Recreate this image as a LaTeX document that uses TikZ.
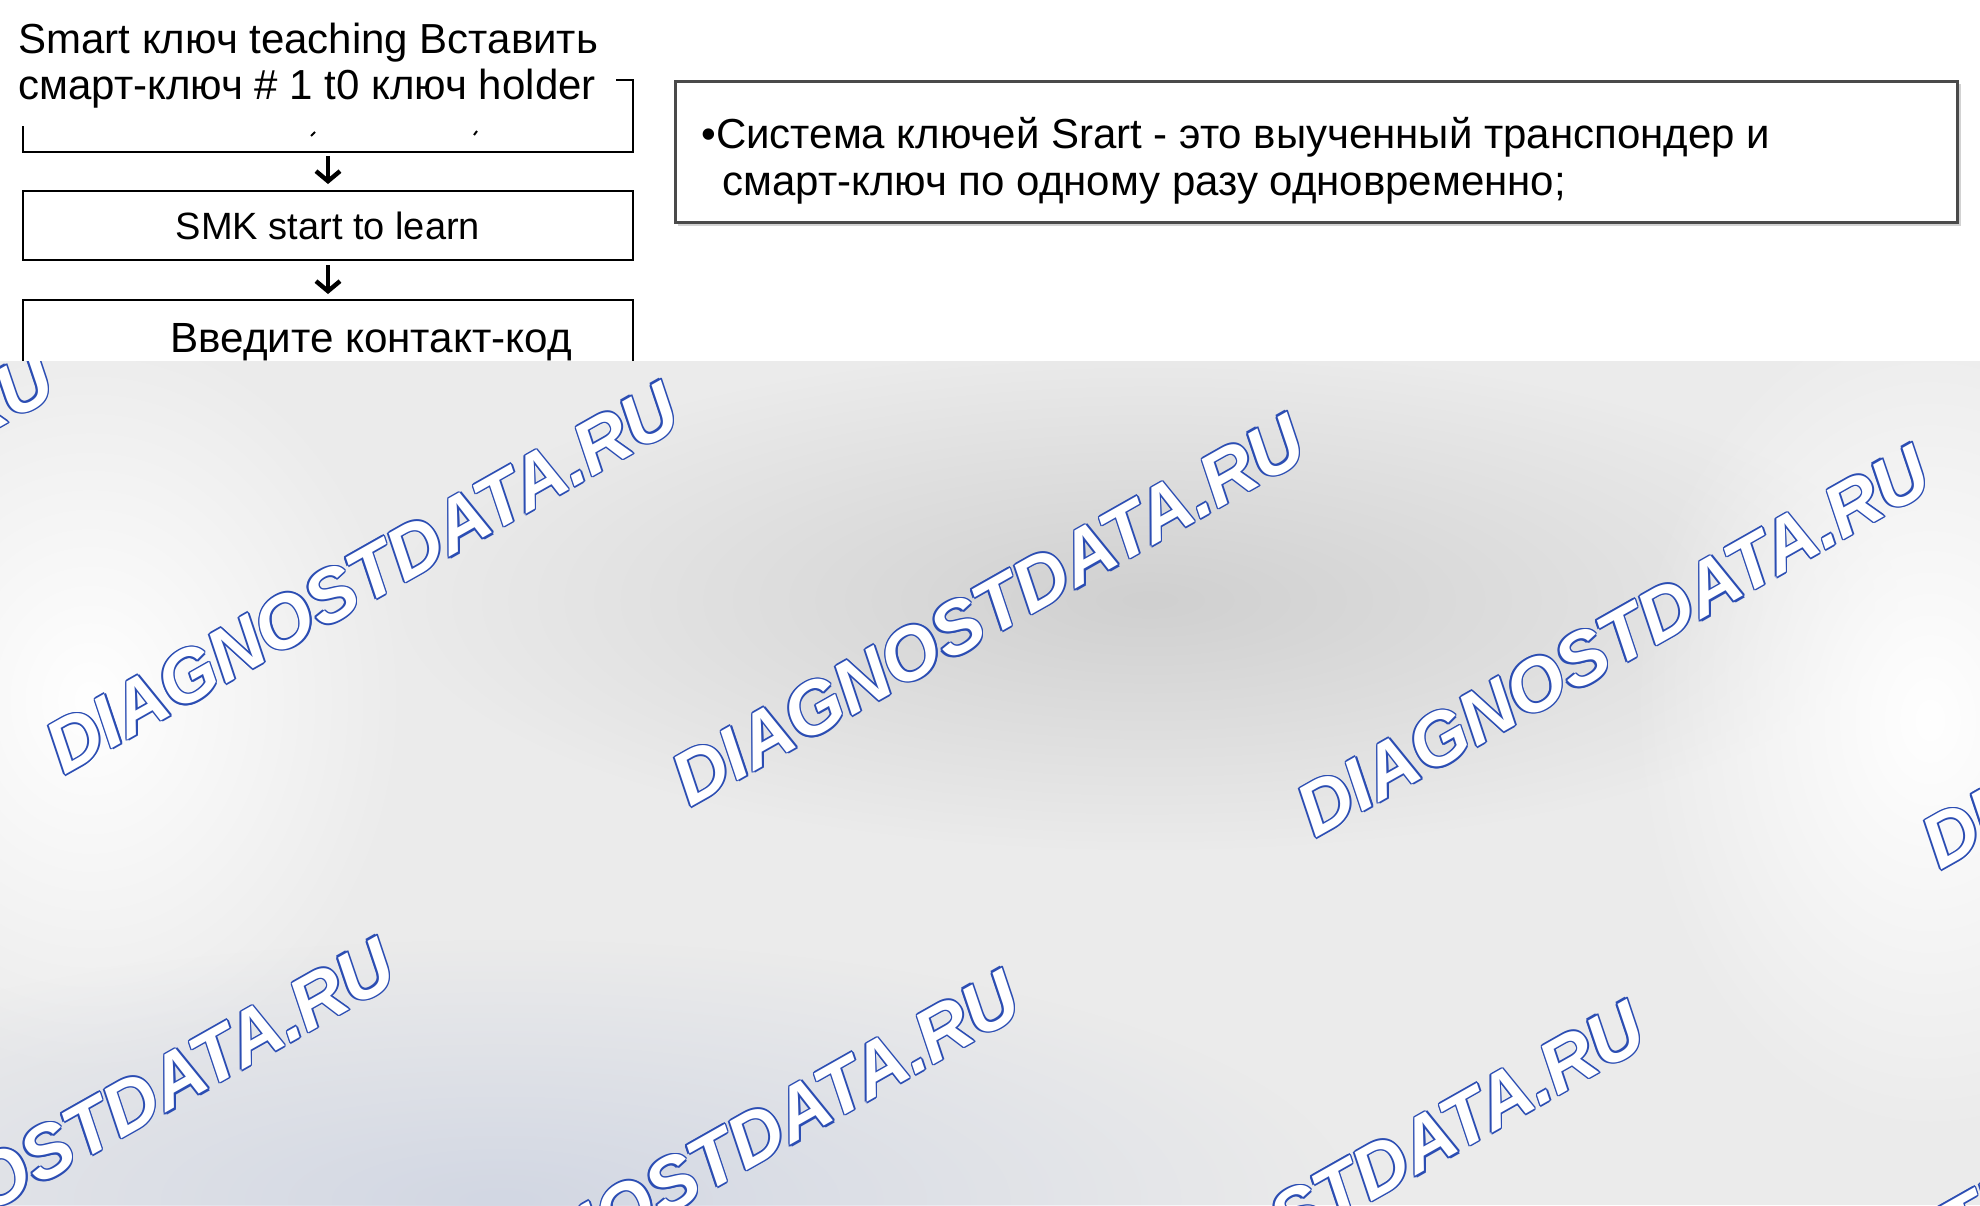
\documentclass[tikz,border=0pt]{standalone}
\usepackage{fontspec}
\setmainfont{Liberation Sans}
\usetikzlibrary{arrows.meta,fadings}
\definecolor{wmblue}{HTML}{2B4DB3}
\definecolor{framegray}{HTML}{4A4A4A}
\definecolor{bggray}{HTML}{EBEBEB}
\definecolor{bgdark}{HTML}{D0D0D0}
\definecolor{bgblue}{HTML}{D2D7E3}

\tikzfading[name=softblob, inner color=transparent!0, outer color=transparent!100]

% One watermark: blue copies round a white copy.
\newcommand{\wmstamp}[1]{%
	\foreach \dx/\dy in {0.8/0,-0.8/0,0/0.8,0/-0.8,0.57/0.57,0.57/-0.57,-0.57/0.57,-0.57/-0.57}
		\node[wmark, text=wmblue] at ([shift={(\dx pt,\dy pt)}]#1) {DIAGNOSTDATA.RU};
	\node[wmark, text=white] at (#1) {DIAGNOSTDATA.RU};
}

\begin{document}
\begin{tikzpicture}
	[
		x=0.5pt, y=-0.5pt,
		% Make a style for the boxes of the steps.
		stepbox/.style={draw, line width=1pt, minimum width=305pt, minimum height=34.5pt, inner sep=0pt, font=\fontsize{19}{22}\selectfont},
		% And one for the lines of text.
		steptext/.style={anchor=base west, inner sep=0pt, font=\fontsize{21}{24}\selectfont},
		notetext/.style={anchor=base west, inner sep=0pt, font=\fontsize{21}{24}\selectfont},
		flowarrow/.style={line width=2.2pt, shorten <=2pt, shorten >=3pt, -{Straight Barb[length=5pt,width=12pt]}},
		wmark/.style={inner sep=0pt, rotate=29.5, font=\fontsize{37}{42}\selectfont\bfseries\itshape}
	]
		\useasboundingbox (0,0) rectangle (1980,1205);
		\fill[white] (0,0) rectangle (1980,1205);

		% First step: an open frame under the text
		\node[steptext] (title1) at (18,53) {Smart ключ teaching Вставить};
		\node[steptext] (title2) at (18,99) {смарт-ключ \# 1 t0 ключ holder};
		\draw[line width=1pt] (616,80) -- (633,80) -- (633,152) -- (23,152) -- (23,126);
		\draw[line width=1pt] (311,136) -- (315,132);
		\draw[line width=1pt] (474,135) -- (477,131);
		\coordinate (teach) at (328,152);

		% Second and third step
		\node[stepbox] (smk) at (328,225.5) {SMK start to learn};
		\draw[line width=1pt] (23,361) -- (23,300) -- (633,300) -- (633,361);
		\coordinate (code) at (328,300);
		\node[steptext, font=\fontsize{21.1}{24}\selectfont] (codetext) at (170,352) {Введите контакт-код};

		\draw[flowarrow] (teach) -- (smk.north);
		\draw[flowarrow] (smk.south) -- (code);

		% Note on the right
		\draw[gray!35, line width=1pt] (678,225) -- (1960,225) -- (1960,84);
		\draw[framegray, line width=1.5pt] (675,81) rectangle (1957,222);
		\node[notetext] (note1) at (701,148) {•Система ключей Srart - это выученный транспондер и};
		\node[notetext] (note2) at (722,195) {смарт-ключ по одному разу одновременно;};

		% Grey ground with the watermarks
		\begin{scope}
			\clip (0,361) rectangle (1980,1205);
			\fill[bggray] (0,361) rectangle (1980,1205);
			\fill[bgdark, path fading=softblob] (1150,600) ellipse (750 and 250);
			\fill[white, path fading=softblob] (90,700) ellipse (320 and 380);
			\fill[white, path fading=softblob] (1930,720) ellipse (300 and 420);
			\fill[bgblue, path fading=softblob] (500,1200) ellipse (850 and 260);
			\foreach \cx/\cy [count=\i] in {-263/547, 362/578, 988/610, 1613/641, 2238/673,
				78/1134, 703/1166, 1328/1197, 1953/1229}
			{
				\coordinate (wm\i) at (\cx,\cy);
				\wmstamp{wm\i}
			}
		\end{scope}
	\end{tikzpicture}
\end{document}
